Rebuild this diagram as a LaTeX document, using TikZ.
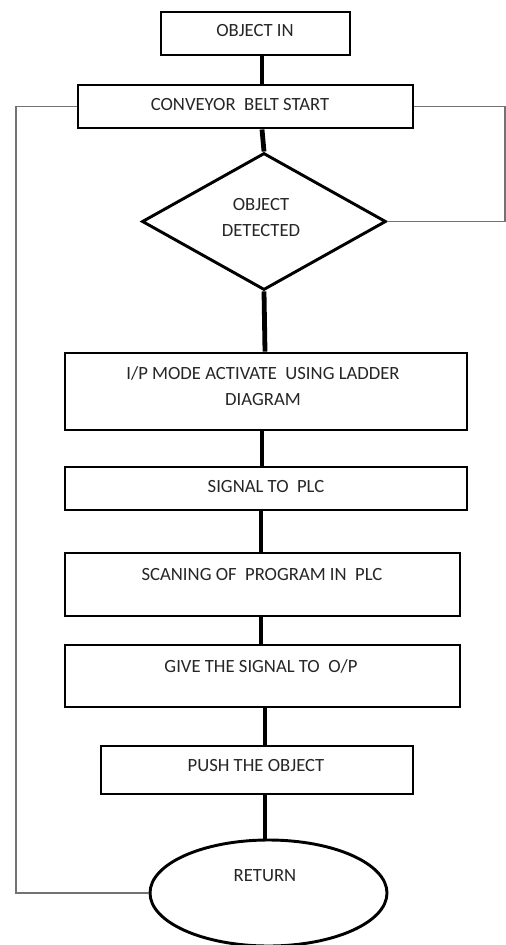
\documentclass[tikz,border=0pt]{standalone}
\usepackage{fontspec}
\setmainfont{Carlito}
\usetikzlibrary{shapes.geometric,calc}
\begin{document}
\begin{tikzpicture}[x=0.75pt,y=-0.75pt,
  stepbox/.style={draw=black, line width=2.2pt, rectangle, inner sep=0pt},
  decbox/.style={draw=black, line width=2.2pt, diamond, inner sep=0pt},
  endbox/.style={draw=black, line width=2.2pt, ellipse, inner sep=0pt},
  txt/.style={inner sep=0pt, text=black!85, font=\fontsize{14}{19.5}\selectfont, align=center},
  conn/.style={draw=black, line width=3.6pt},
  loop/.style={draw=black!55, line width=0.9pt}]
\useasboundingbox[fill=white] (0,0) rectangle (506,945);
% shapes
\node[stepbox, minimum width=141.75pt, minimum height=32.25pt] (b0) at (255.5,33.5) {};
\node[stepbox, minimum width=251.25pt, minimum height=32.25pt] (b1) at (245.5,106.5) {};
\node[decbox, minimum width=183pt, minimum height=102.75pt] (d) at (264,221.5) {};
\node[stepbox, minimum width=301.5pt, minimum height=57.75pt] (b2) at (266,391.5) {};
\node[stepbox, minimum width=301.5pt, minimum height=32.25pt] (b3) at (266,488.5) {};
\node[stepbox, minimum width=296.25pt, minimum height=47.25pt] (b4) at (262.5,584.5) {};
\node[stepbox, minimum width=296.25pt, minimum height=46.5pt] (b5) at (262.5,676) {};
\node[stepbox, minimum width=234pt, minimum height=36pt] (b6) at (257,770) {};
\node[endbox, minimum width=177.75pt, minimum height=79.5pt] (r) at (268.5,893) {};
% texts
\node[txt] (t0) at (255,31) {OBJECT IN};
\node[txt] (t1) at (240,105) {CONVEYOR\ \ BELT START};
\node[txt] (td) at (261,218) {OBJECT\\DETECTED};
\node[txt] (t2) at (263,386) {I/P MODE ACTIVATE\ \ USING LADDER\\DIAGRAM};
\node[txt] (t3) at (266,487) {SIGNAL TO\ \ PLC};
\node[txt] (t4) at (262,575) {SCANING OF\ \ PROGRAM IN\ \ PLC};
\node[txt] (t5) at (261,666) {GIVE THE SIGNAL TO\ \ O/P};
\node[txt] (t6) at (256,766) {PUSH THE OBJECT};
\node[txt] (tr) at (265,876) {RETURN};
% connector x positions
\coordinate (x262) at (262,0);
\coordinate (x265) at (265,0);
\coordinate (x261) at (261,0);
\draw[conn] (b0.south -| x262) -- (b1.north -| x262);
\draw[conn] (b1.south -| x262) -- (d.north);
\draw[conn] (d.south) -- (b2.north -| x265);
\draw[conn] (b2.south -| x262) -- (b3.north -| x262);
\draw[conn] (b3.south -| x261) -- (b4.north -| x261);
\draw[conn] (b4.south -| x261) -- (b5.north -| x261);
\draw[conn] (b5.south -| x265) -- (b6.north -| x265);
\draw[conn] (b6.south -| x265) -- (r.north -| x265);
% loop lines
\coordinate (ltop) at (16,106.5);
\coordinate (lbot) at (16,893);
\coordinate (rtop) at (505,106.5);
\coordinate (rbot) at (505,221.5);
\draw[loop] (b1.west) -- (ltop) -- (lbot) -- (r.west);
\draw[loop] (b1.east) -- (rtop) -- (rbot) -- (d.east);
\end{tikzpicture}
\end{document}
